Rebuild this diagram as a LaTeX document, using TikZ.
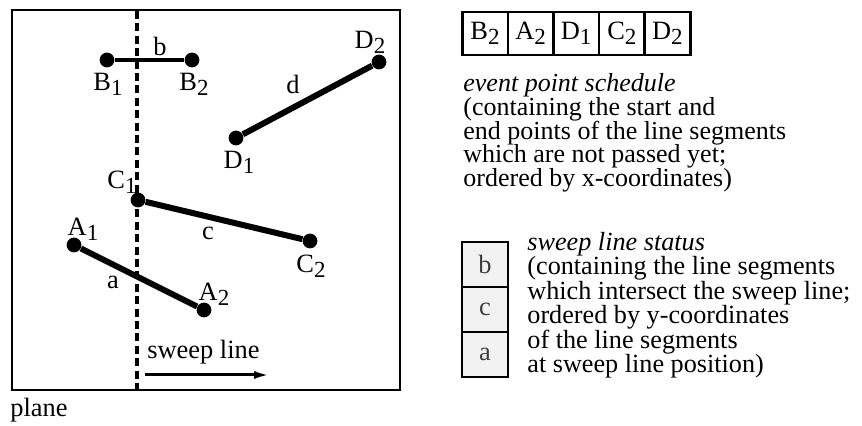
\documentclass[tikz,border=0pt]{standalone}
\usepackage{fontspec}
\setmainfont{Liberation Serif}
\usetikzlibrary{arrows.meta,positioning}
\newcommand{\sub}[1]{\raisebox{-0.4ex}{\fontsize{11.5}{12}\selectfont #1}}
\newcommand{\evfont}{\fontsize{13}{11.9}\selectfont\lineskiplimit=-20pt\relax}
\newcommand{\stfont}{\fontsize{13.1}{12.2}\selectfont\lineskiplimit=-20pt\relax}

\begin{document}
\begin{tikzpicture}[x=0.5pt,y=-0.5pt,
    every node/.style={font=\fontsize{13.2}{12.2}\selectfont},
    dot/.style={circle,fill=black,inner sep=0pt,minimum size=7.4pt},
    seg/.style={line width=3pt},
    lbl/.style={inner sep=0pt},
    evbox/.style={draw,line width=1.3pt,outer sep=0pt,minimum width=22.8pt,
                  minimum height=21.5pt,inner sep=0pt},
    stbox/.style={draw,line width=1.3pt,outer sep=0pt,fill=black!5,text=black!75,
                  minimum width=23pt,minimum height=22.5pt,inner sep=0pt},
    notes/.style={anchor=north west,align=left,inner sep=0pt}]
  \useasboundingbox (0,0) rectangle (862,426);

  % the plane
  \draw[line width=1.3pt] (12,10) rectangle (400,390);
  \node[anchor=west,inner sep=0pt] (plane) at (10,410) {plane};
  \coordinate (swtop) at (137,11);
  \coordinate (swbot) at (137,389);
  \draw[line width=1.6pt,dash pattern=on 4pt off 2.2pt] (swtop) -- (swbot);

  % segment end points
  \node[dot] (B1) at (107,60) {};
  \node[dot] (B2) at (192,60) {};
  \node[dot] (D1) at (236,138) {};
  \node[dot] (D2) at (379,62) {};
  \node[dot] (C1) at (138,200) {};
  \node[dot] (C2) at (310,241) {};
  \node[dot] (A1) at (74,245) {};
  \node[dot] (A2) at (204,310) {};

  \draw[line width=1.8pt] (B1) -- (B2);
  \draw[seg] (D1) -- (D2);
  \draw[seg] (C1) -- (C2);
  \draw[seg] (A1) -- (A2);

  \node[lbl] (lb) at (160,46) {b};
  \node[lbl] (lB1) at (108,84) {B\sub1};
  \node[lbl] (lB2) at (194,84) {B\sub2};
  \node[lbl] (lD2) at (370,42) {D\sub2};
  \node[lbl] (ld) at (293,84) {d};
  \node[lbl] (lD1) at (239,162) {D\sub1};
  \node[lbl] (lC1) at (122,182) {C\sub1};
  \node[lbl] (lc) at (208,233) {c};
  \node[lbl] (lC2) at (311,266) {C\sub2};
  \node[lbl] (lA1) at (83,229) {A\sub1};
  \node[lbl] (la) at (113,282) {a};
  \node[lbl] (lA2) at (214,294) {A\sub2};

  \node[lbl,anchor=west] (swtxt) at (147,352) {sweep line};
  \coordinate (arrs) at (145,375);
  \coordinate (arre) at (270,375);
  \draw[line width=1.5pt,-{Latex[length=8pt,width=4pt]}] (arrs) -- (arre);

  % event point schedule
  \node[evbox] (e1) at (485,33.5) {B\sub2};
  \node[evbox,right=0pt of e1] (e2) {A\sub2};
  \node[evbox,right=0pt of e2] (e3) {D\sub1};
  \node[evbox,right=0pt of e3] (e4) {C\sub2};
  \node[evbox,right=0pt of e4] (e5) {D\sub2};
  \node[notes,font=\evfont] (evtxt) at (463,73)
       {\textit{event point schedule}\\(containing the start and\\end points of the line segments\\which are not passed yet;\\ordered by x-coordinates)};

  % sweep line status
  \node[stbox] (s1) at (485,264.5) {b};
  \node[stbox,below=0pt of s1] (s2) {c};
  \node[stbox,below=0pt of s2] (s3) {a};
  \node[notes,font=\stfont] (sttxt) at (527,232)
       {\textit{sweep line status}\\(containing the line segments\\which intersect the sweep line;\\ordered by y-coordinates\\of the line segments\\at sweep line position)};
\end{tikzpicture}
\end{document}
